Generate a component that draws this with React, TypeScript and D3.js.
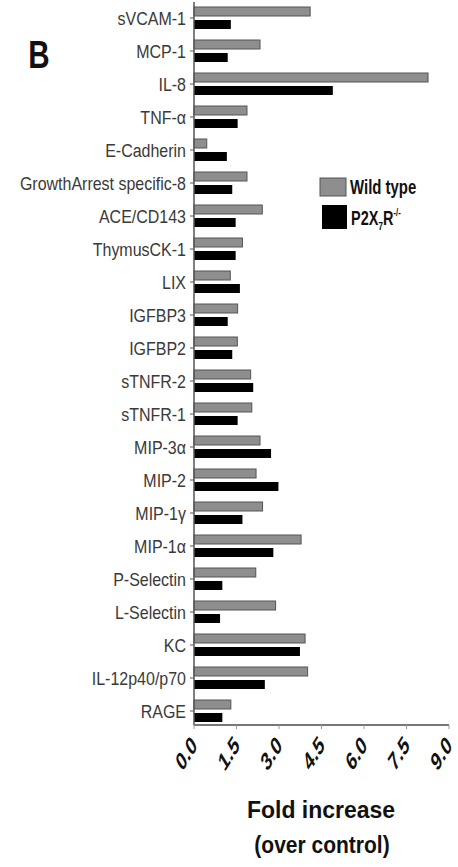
import React from "react";
import * as d3 from "d3";

const categories = [
  "sVCAM-1", "MCP-1", "IL-8", "TNF-α", "E-Cadherin", "GrowthArrest specific-8",
  "ACE/CD143", "ThymusCK-1", "LIX", "IGFBP3", "IGFBP2", "sTNFR-2", "sTNFR-1",
  "MIP-3α", "MIP-2", "MIP-1γ", "MIP-1α", "P-Selectin", "L-Selectin", "KC",
  "IL-12p40/p70", "RAGE",
];
const wildType = [4.1, 2.33, 8.26, 1.87, 0.45, 1.87, 2.41, 1.71, 1.28, 1.54, 1.53, 2.0, 2.04, 2.33, 2.19, 2.42, 3.78, 2.18, 2.88, 3.92, 4.01, 1.3];
const knockout = [1.3, 1.19, 4.9, 1.54, 1.16, 1.35, 1.47, 1.47, 1.62, 1.19, 1.35, 2.09, 1.54, 2.72, 2.98, 1.71, 2.8, 1.0, 0.92, 3.74, 2.5, 1.0];
const xTicks = [0, 1.5, 3, 4.5, 6, 7.5, 9];
const tickLabels = ["0.0", "1.5", "3.0", "4.5", "6.0", "7.5", "9.0"];
const seriesKeys = ["wt", "ko"];

const W = 458, H = 867;
const AXIS_Y = 725;

export default function App() {
  const x = d3.scaleLinear().domain([0, 9]).range([194, 449]);
  const y = d3.scaleBand<string>().domain(categories).range([-4, 733]).paddingInner(1 / 3).paddingOuter(1 / 3);
  const sub = d3.scaleBand<string>().domain(seriesKeys).range([0, y.bandwidth()]).paddingInner(4 / 13);
  const font = "'Liberation Sans', Arial, sans-serif";

  return (
    <svg width={W} height={H} style={{ position: "absolute", left: 0, top: 0, background: "#fff" }}>
      {/* panel letter */}
      <text transform="translate(39,68) scale(0.8,1.05)" textAnchor="middle" fontFamily={font} fontWeight="bold" fontSize={37} fill="#111">B</text>

      {/* bars */}
      {categories.map((c, i) => {
        const y0 = y(c)!;
        return (
          <g key={c}>
            <rect x={x(0)} y={y0 + sub("wt")!} width={x(wildType[i]) - x(0)} height={sub.bandwidth()}
              fill="#8e8e8e" stroke="#555" strokeWidth={1} />
            <rect x={x(0)} y={y0 + sub("ko")!} width={x(knockout[i]) - x(0)} height={sub.bandwidth()}
              fill="#000" />
          </g>
        );
      })}

      {/* y axis */}
      <line x1={x(0)} x2={x(0)} y1={2} y2={AXIS_Y} stroke="#555" strokeWidth={1.5} />
      {categories.map((c) => {
        const cy = y(c)! + y.bandwidth() / 2;
        return (
          <g key={"l" + c}>
            <line x1={x(0) - 4} x2={x(0)} y1={cy} y2={cy} stroke="#555" strokeWidth={1} />
            <text transform={`translate(${x(0) - 8},${cy + 1}) scale(1,1.14)`} dy="0.35em" textAnchor="end"
              fontFamily={font} fontSize={16} fill="#3a3a3a">{c}</text>
          </g>
        );
      })}

      {/* x axis */}
      <line x1={x(0)} x2={x(9)} y1={AXIS_Y} y2={AXIS_Y} stroke="#777" strokeWidth={2} />
      {xTicks.map((t, i) => (
        <g key={"t" + t}>
          <line x1={x(t)} x2={x(t)} y1={AXIS_Y} y2={AXIS_Y + 4} stroke="#999" strokeWidth={1} />
          <text transform={`translate(${x(t) + 4},${AXIS_Y + 22}) scale(1,1.6) rotate(-45)`} textAnchor="end"
            fontFamily={font} fontWeight="bold" fontSize={16} fill="#111">{tickLabels[i]}</text>
        </g>
      ))}

      {/* axis title */}
      <text transform="translate(321,818) scale(1,1.08)" textAnchor="middle" fontFamily={font} fontWeight="bold" fontSize={23} fill="#111">Fold increase</text>
      <text transform="translate(322,853) scale(1,1.1)" textAnchor="middle" fontFamily={font} fontWeight="bold" fontSize={21} fill="#111">(over control)</text>

      {/* legend */}
      <rect x={320} y={178} width={26} height={18} fill="#8e8e8e" stroke="#555" strokeWidth={1} />
      <text transform="translate(350,194) scale(0.88,1.15)" fontFamily={font} fontWeight="bold" fontSize={17} fill="#111">Wild type</text>
      <rect x={322} y={205} width={25} height={24} fill="#000" />
      <text transform="translate(351,225) scale(0.85,1.15)" fontFamily={font} fontWeight="bold" fontSize={17} fill="#111">
        P2X<tspan fontSize={10} dy={4}>7</tspan><tspan dy={-4}>R</tspan><tspan fontSize={9} dy={-8}>-/-</tspan>
      </text>
    </svg>
  );
}
